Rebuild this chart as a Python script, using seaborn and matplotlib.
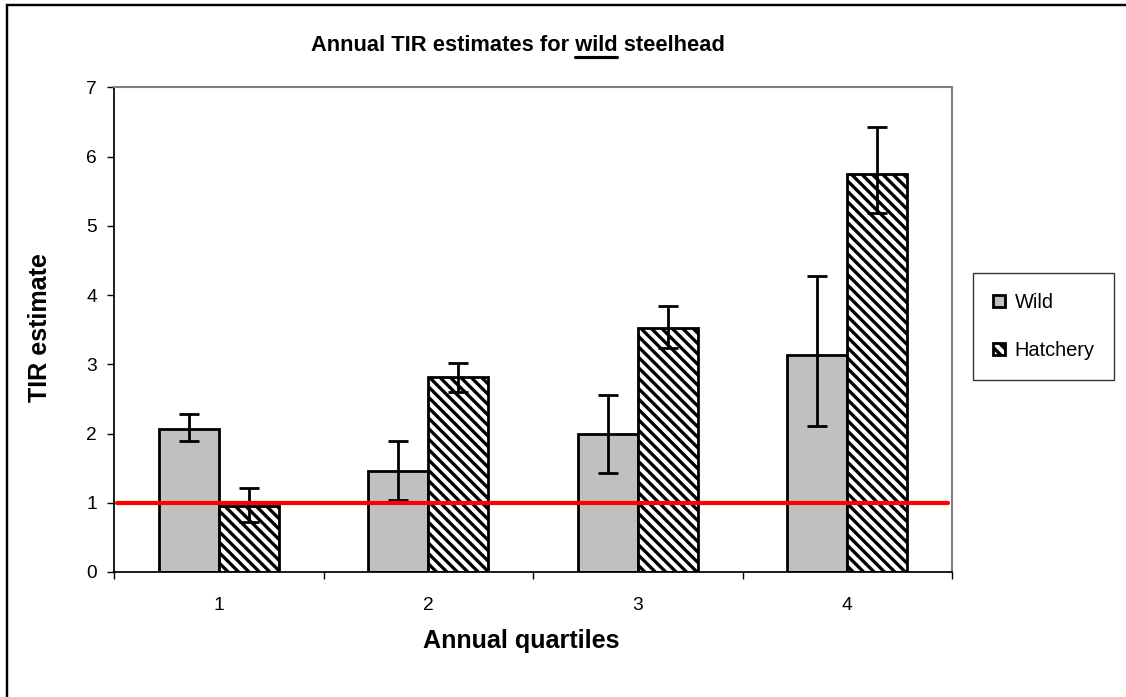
import numpy as np
import pandas as pd
import matplotlib
matplotlib.use("Agg")
import matplotlib.pyplot as plt
import seaborn as sns
from matplotlib.lines import Line2D
from matplotlib.patches import Rectangle

# ---- data ----
quartiles = ["1", "2", "3", "4"]
series_names = ["Wild", "Hatchery"]
wild_vals = [2.06, 1.46, 1.99, 3.13]
wild_low = [1.89, 1.04, 1.43, 2.11]
wild_high = [2.28, 1.89, 2.56, 4.27]
hatch_vals = [0.95, 2.81, 3.52, 5.75]
hatch_low = [0.72, 2.60, 3.24, 5.19]
hatch_high = [1.22, 3.02, 3.84, 6.43]
ref_value = 1.0
y_ticks = [0, 1, 2, 3, 4, 5, 6, 7]

df = pd.DataFrame({
    "quartile": quartiles * 2,
    "type": [series_names[0]] * 4 + [series_names[1]] * 4,
    "value": wild_vals + hatch_vals,
})

sns.set_theme(style="white")
plt.rcParams["font.family"] = ["Liberation Sans", "DejaVu Sans"]
plt.rcParams["hatch.linewidth"] = 1.9
plt.rcParams["hatch.color"] = "black"
for k in ["text.color", "axes.labelcolor", "xtick.color", "ytick.color"]:
    plt.rcParams[k] = "black"

DPI = 125
fig = plt.figure(figsize=(1126 / DPI, 697 / DPI), dpi=DPI)
fig.patch.set_facecolor("white")
ax = fig.add_axes([114 / 1126, 1 - 572 / 697, 838 / 1126, (572 - 87.3) / 697])

sns.barplot(data=df, x="quartile", y="value", hue="type", hue_order=series_names,
            order=quartiles,
            palette={"Wild": "#C0C0C0", "Hatchery": "white"},
            edgecolor="black", linewidth=1.6, width=0.573, errorbar=None,
            saturation=1, legend=False, ax=ax)

cont_w, cont_h = ax.containers[0], ax.containers[1]
for p in cont_h:
    p.set_hatch("\\\\\\\\")

# error bars
for cont, vals, lo, hi in [(cont_w, wild_vals, wild_low, wild_high),
                           (cont_h, hatch_vals, hatch_low, hatch_high)]:
    xs = [p.get_x() + p.get_width() / 2 for p in cont]
    v = np.array(vals)
    yerr = np.vstack([v - np.array(lo), np.array(hi) - v])
    ax.errorbar(xs, v, yerr=yerr, fmt="none", ecolor="black", elinewidth=1.6,
                capsize=5.5, capthick=1.6, zorder=4)

ax.axhline(ref_value, xmin=0.004, xmax=0.995, color="#FF0000", lw=2.4, zorder=5)

ax.set_ylim(0, 7)
ax.set_xlim(-0.5, 3.5)
ax.set_yticks(y_ticks)
ax.set_yticklabels([str(t) for t in y_ticks], fontsize=11)
ax.set_xticks([-0.5, 0.5, 1.5, 2.5, 3.5])
ax.set_xticklabels([""] * 5)
ax.set_xticks([0, 1, 2, 3], minor=True)
ax.set_xticklabels(quartiles, minor=True, fontsize=11)
ax.tick_params(axis="x", which="major", direction="out", length=4, width=0.8,
               color="black", bottom=True)
ax.tick_params(axis="x", which="minor", length=0, pad=14.5, bottom=True)
ax.tick_params(axis="y", direction="out", length=4, width=0.8, color="black",
               pad=6, left=True)
ax.set_xlabel("")
ax.set_ylabel("")

for s in ["left", "bottom"]:
    ax.spines[s].set_color("black")
    ax.spines[s].set_linewidth(1.0)
for s in ["top", "right"]:
    ax.spines[s].set_color("#808080")
    ax.spines[s].set_linewidth(1.2)
ax.grid(False)

# axis labels
fig.text(40 / 1126, 1 - 328 / 697, "TIR estimate", rotation=90, ha="center",
         va="center", fontsize=14.5, fontweight="bold")
fig.text(521 / 1126, 1 - 641 / 697, "Annual quartiles", ha="center",
         va="center", fontsize=14.5, fontweight="bold")

# title with underlined "wild"
title_str = "Annual TIR estimates for wild steelhead"
TFS = 12.6
tx, ty = 517.5 / 1126, 1 - 50.7 / 697
title = fig.text(tx, ty, title_str, ha="center", va="baseline",
                 fontsize=TFS, fontweight="bold")
fig.canvas.draw()
r = fig.canvas.get_renderer()
tb = title.get_window_extent(r)
tmp1 = fig.text(0, 0, "Annual TIR estimates for wild", fontsize=TFS, fontweight="bold")
tmp2 = fig.text(0, 0, "wild", fontsize=TFS, fontweight="bold")
w1 = tmp1.get_window_extent(r).width
w2 = tmp2.get_window_extent(r).width
tmp1.remove(); tmp2.remove()
x_end = tb.x0 + w1
x_start = x_end - w2
W, H = fig.bbox.width, fig.bbox.height
uy = ty - 6.5 / H
fig.add_artist(Line2D([x_start / W, x_end / W], [uy, uy], color="black",
                      lw=1.8, transform=fig.transFigure))

# legend
leg = ax.legend(handles=[cont_w, cont_h], labels=series_names,
                loc="center left", bbox_to_anchor=(973 / 1126, 1 - 326.5 / 697),
                bbox_transform=fig.transFigure, fontsize=11.5, frameon=True,
                fancybox=False, shadow=False, handlelength=0.58, handleheight=0.58,
                handletextpad=0.5, labelspacing=1.45, borderpad=1.0,
                borderaxespad=0)
leg.get_frame().set_edgecolor("black")
leg.get_frame().set_linewidth(0.8)

# outer chart border
fig.add_artist(Rectangle((7.5 / 1126, -0.02), 1.1, 1 - 4.5 / 697 + 0.02,
                         fill=False, edgecolor="black", lw=1.4,
                         transform=fig.transFigure, clip_on=False))

fig.savefig("out.png", dpi=DPI, facecolor="white")
